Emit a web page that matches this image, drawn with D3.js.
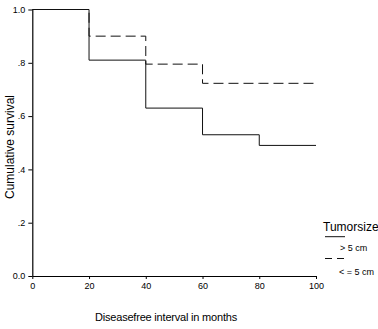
<!DOCTYPE html>
<html>
<head>
<meta charset="utf-8">
<script src="https://cdn.jsdelivr.net/npm/d3@7"></script>
<style>
  body { margin: 0; background: #fff; }
  text { font-family: "Liberation Sans", Arial, sans-serif; fill: #000; }
</style>
</head>
<body>
<div id="canvas"></div>
<script>
// survival data
const months = [0, 20, 40, 60, 80, 100];
const survLarge = [1.0, 0.81, 0.63, 0.53, 0.49, 0.49];   // > 5 cm (solid)
const survSmall = [1.0, 0.90, 0.795, 0.723, 0.723, 0.723]; // <= 5 cm (dashed)
const xTicks = [0, 20, 40, 60, 80, 100];
const yTicks = [0, 0.2, 0.4, 0.6, 0.8, 1.0];
const yTickLabels = ["0.0", ".2", ".4", ".6", ".8", "1.0"];
const legendTitle = "Tumorsize";
const legendLabels = ["> 5 cm", "< = 5 cm"];

const width = 378, height = 329;

const x = d3.scaleLinear().domain([0, 100]).range([32.3, 316]);
const y = d3.scaleLinear().domain([0, 1]).range([276, 9.5]);

const svg = d3.select("#canvas")
  .append("svg")
  .attr("width", width)
  .attr("height", height);

// axes
const xAxis = svg.append("g")
  .attr("transform", `translate(0,${y(0)})`)
  .call(d3.axisBottom(x).tickValues(xTicks).tickSize(3).tickPadding(4).tickSizeOuter(0));

const yAxis = svg.append("g")
  .attr("transform", `translate(${x(0)},0)`)
  .call(d3.axisLeft(y).tickValues(yTicks).tickSize(4).tickPadding(3).tickSizeOuter(0)
    .tickFormat((d, i) => yTickLabels[i]));

[xAxis, yAxis].forEach(g => {
  g.selectAll("text").style("font-size", "9px").style("font-family", "Liberation Sans, Arial, sans-serif");
  g.select(".domain").attr("stroke", "#000").attr("stroke-width", 1.2);
  g.selectAll(".tick line").attr("stroke", "#000");
});

// survival curves
const line = d3.line()
  .x((d, i) => x(months[i]))
  .y(d => y(d))
  .curve(d3.curveStepAfter);

svg.append("path")
  .datum(survLarge)
  .attr("d", line)
  .attr("fill", "none")
  .attr("stroke", "#111")
  .attr("stroke-width", 1);

svg.append("path")
  .datum(survSmall)
  .attr("d", line)
  .attr("fill", "none")
  .attr("stroke", "#111")
  .attr("stroke-width", 1)
  .attr("stroke-dasharray", "10,5");

// axis titles
svg.append("text")
  .attr("transform", `translate(14,147) rotate(-90)`)
  .attr("text-anchor", "middle")
  .style("font-size", "12px")
  .text("Cumulative survival");

svg.append("text")
  .attr("x", 166)
  .attr("y", 321)
  .attr("text-anchor", "middle")
  .style("font-size", "11px")
  .style("letter-spacing", "-0.2px")
  .text("Diseasefree interval in months");

// legend
const legend = svg.append("g");
legend.append("text")
  .attr("x", 323).attr("y", 231)
  .style("font-size", "12px")
  .text(legendTitle);

legend.append("line")
  .attr("x1", 325).attr("x2", 345)
  .attr("y1", 236.7).attr("y2", 236.7)
  .attr("stroke", "#111");
legend.append("text")
  .attr("x", 340).attr("y", 251)
  .style("font-size", "9px")
  .text(legendLabels[0]);

legend.append("line")
  .attr("x1", 325).attr("x2", 344)
  .attr("y1", 258.5).attr("y2", 258.5)
  .attr("stroke", "#111")
  .attr("stroke-dasharray", "7,5");
legend.append("text")
  .attr("x", 339).attr("y", 275)
  .style("font-size", "9px")
  .text(legendLabels[1]);
</script>
</body>
</html>
